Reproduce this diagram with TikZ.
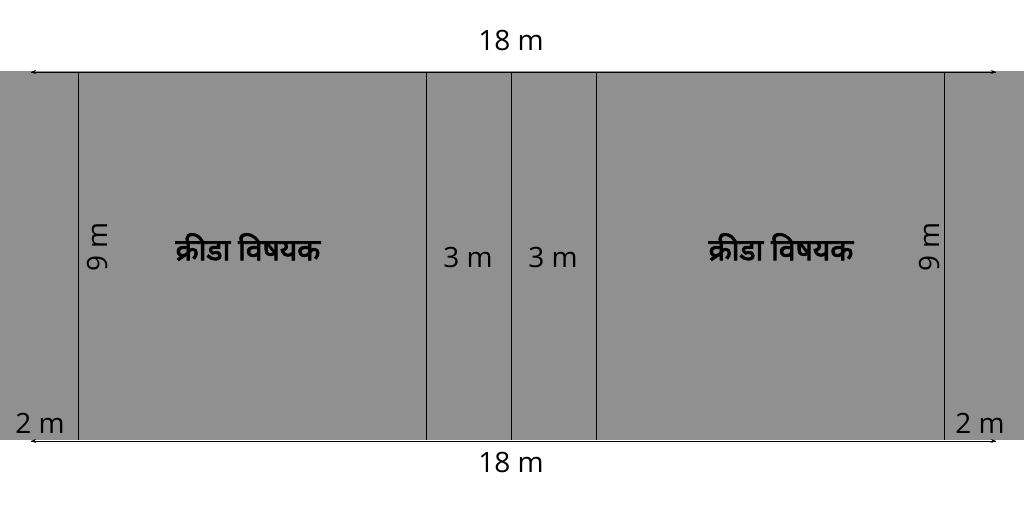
\documentclass[tikz,border=0pt]{standalone}
\usepackage{fontspec}
\setmainfont{Open Sans}
\newfontfamily\deva[Script=Devanagari,AutoFakeBold=3]{Noto Sans}
\usetikzlibrary{arrows.meta}
\definecolor{court}{RGB}{144,144,144}
\tikzset{
  courtline/.style={black, line width=0.9pt},
  dim/.style={black, line width=0.7pt, -{Stealth[length=5pt,width=4pt]}},
  lbl/.style={font=\fontsize{28}{32}\selectfont, inner sep=0pt},
  dlbl/.style={font=\deva\bfseries\fontsize{30}{34}\selectfont, inner sep=0pt}
}
\begin{document}
\begin{tikzpicture}[x=1pt,y=-1pt]
\useasboundingbox (0,0) rectangle (1024,512);
\fill[court] (0,71) rectangle (1024,440);
\foreach \x in {78,426,511,596,944} \draw[courtline] (\x,72) -- (\x,440);
\coordinate (tl) at (31,72); \coordinate (tr) at (996,72);
\coordinate (bl) at (31,441); \coordinate (br) at (996,441);
\draw[dim] (tl) -- (tr);
\draw[dim] (tr) -- (tl);
\draw[dim] (bl) -- (br);
\draw[dim] (br) -- (bl);
\node[lbl] (top) at (511,40) {18 m};
\node[lbl] (bot) at (511,462) {18 m};
\node[lbl] (l2) at (40,423) {2 m};
\node[lbl] (r2) at (980,423) {2 m};
\node[lbl] (t1) at (468,257) {3 m};
\node[lbl] (t2) at (553,257) {3 m};
\node[lbl, rotate=90] (n1) at (97,247) {9 m};
\node[lbl, rotate=90] (n2) at (929,247) {9 m};
\node[dlbl] (k1) at (248,247) {क्रीडा विषयक};
\node[dlbl] (k2) at (781,247) {क्रीडा विषयक};
\end{tikzpicture}
\end{document}
